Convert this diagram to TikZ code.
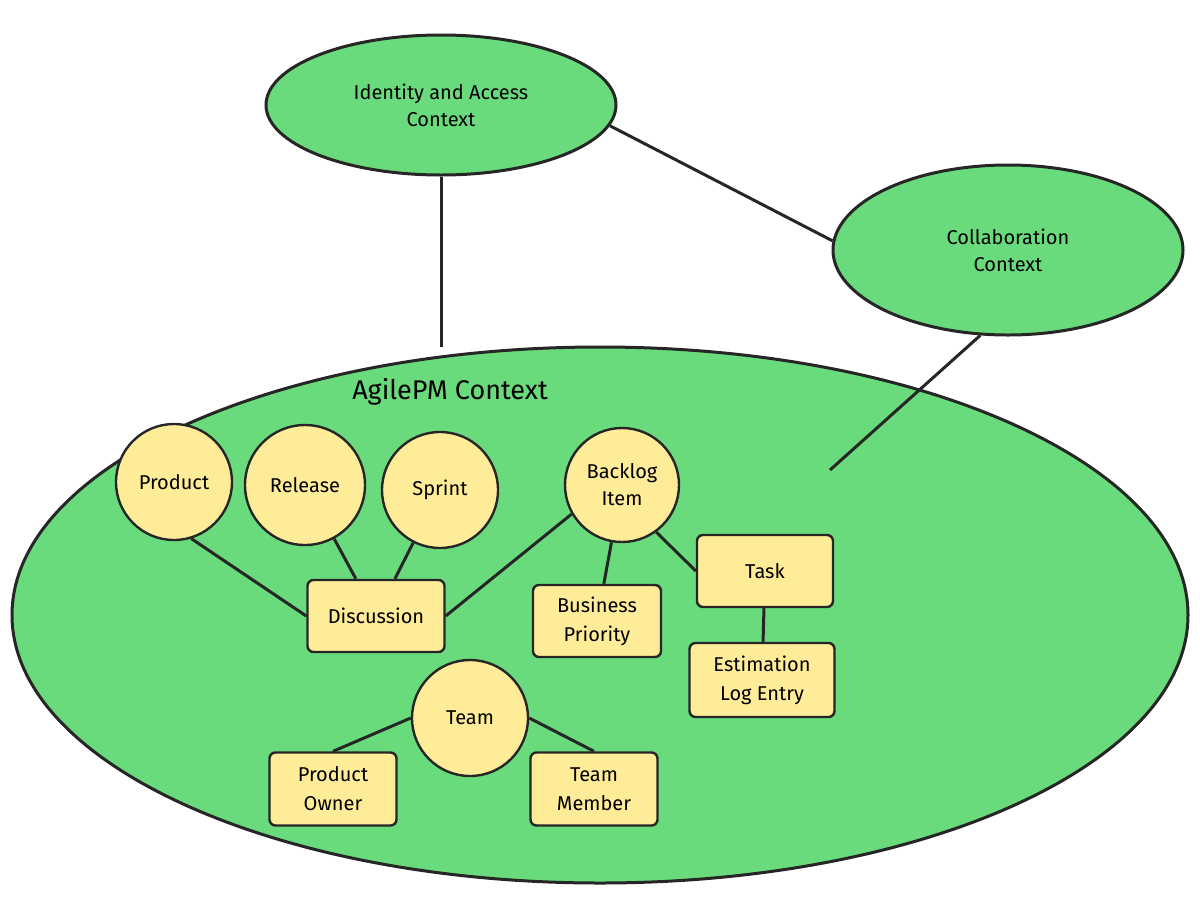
\documentclass[tikz,border=0pt]{standalone}
\usepackage{fontspec}
\setmainfont{Fira Sans}
\usetikzlibrary{shapes.geometric}
\definecolor{ctxgreen}{HTML}{69DB7C}
\definecolor{objyellow}{HTML}{FFEC99}
\tikzset{
  ctx/.style={draw=black!85,line width=3pt,fill=ctxgreen,ellipse,inner sep=0pt,font=\fontsize{20}{27}\selectfont,align=center},
  obj/.style={draw=black!85,line width=2.4pt,fill=objyellow,circle,inner sep=0pt,font=\fontsize{20}{27}\selectfont,align=center},
  box/.style={draw=black!85,line width=2.4pt,fill=objyellow,rounded corners=6pt,inner sep=0pt,font=\fontsize{20}{29}\selectfont,align=center},
  link/.style={draw=black!85,line width=3pt}
}
\begin{document}
\begin{tikzpicture}[x=1pt,y=-1pt]
    \useasboundingbox (0,0) rectangle (1200,898);
    \node[ctx,minimum width=350pt,minimum height=140pt] (iam) at (441,105) {Identity and Access\\Context};
    \node[ctx,minimum width=350pt,minimum height=170pt] (collab) at (1008,250) {Collaboration\\Context};
    \node[ctx,minimum width=1176pt,minimum height=536pt] (agile) at (600,615) {};
    \node[font=\fontsize{27}{32}\selectfont] (title) at (450,392) {AgilePM Context};
    \coordinate (agiletop) at (441,347);
    \coordinate (agileedge) at (830,470);
    \draw[link] (iam) -- (agiletop);
    \draw[link] (iam.-7) -- (collab.177);
    \draw[link] (collab.-108) -- (agileedge);
    \node[obj,minimum size=116pt] (product) at (174,482) {Product};
    \node[obj,minimum size=120pt] (release) at (305,485) {Release};
    \node[obj,minimum size=116pt] (sprint) at (440,490) {Sprint};
    \node[obj,minimum size=114pt] (backlog) at (622,485) {Backlog\\Item};
    \node[obj,minimum size=116pt] (team) at (470,718) {Team};
    \node[box,minimum width=137pt,minimum height=72pt] (discussion) at (376,616) {Discussion};
    \node[box,minimum width=128pt,minimum height=72pt] (priority) at (597,621) {Business\\Priority};
    \node[box,minimum width=136pt,minimum height=72pt] (task) at (765,571) {Task};
    \node[box,minimum width=145pt,minimum height=74pt] (estimate) at (762,680) {Estimation\\Log Entry};
    \node[box,minimum width=127pt,minimum height=73pt] (owner) at (333,789) {Product\\Owner};
    \node[box,minimum width=127pt,minimum height=73pt] (member) at (594,789) {Team\\Member};
    \draw[link] (product.-73) -- (discussion.west);
    \draw[link] (release) -- (discussion);
    \draw[link] (sprint) -- (discussion);
    \draw[link] (backlog.210) -- (discussion.east);
    \draw[link] (backlog) -- (priority);
    \draw[link] (backlog.-54) -- (task.west);
    \draw[link] (task) -- (estimate);
    \draw[link] (team.west) -- (owner.north);
    \draw[link] (team.east) -- (member.north);
\end{tikzpicture}
\end{document}
